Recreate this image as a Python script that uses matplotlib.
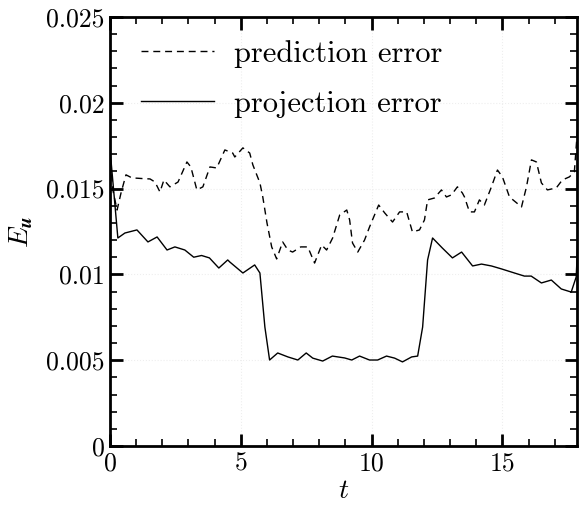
import numpy as np
import matplotlib
matplotlib.use("Agg")
import matplotlib.pyplot as plt
from matplotlib.ticker import MultipleLocator, FuncFormatter

plt.rcParams["font.family"] = "serif"
plt.rcParams["font.serif"] = ["cmr10"]
plt.rcParams["mathtext.fontset"] = "cm"
plt.rcParams["axes.unicode_minus"] = False

# prediction error (dashed)
t_pred = [0.0, 0.04, 0.11, 0.27, 0.42, 0.61, 0.84, 1.07, 1.26, 1.53, 1.72, 1.91, 2.06,
          2.29, 2.6, 2.94, 3.09, 3.32, 3.55, 3.82, 4.08, 4.39, 4.69, 4.77, 5.08, 5.34,
          5.46, 5.73, 5.84, 6.0, 6.18, 6.37, 6.6, 6.8, 6.98, 7.29, 7.56, 7.82, 8.09,
          8.28, 8.51, 8.78, 9.05, 9.16, 9.27, 9.47, 9.73, 9.92, 10.27, 10.5, 10.8,
          11.07, 11.34, 11.56, 11.83, 12.02, 12.14, 12.4, 12.67, 12.86, 13.05, 13.28,
          13.47, 13.55, 13.74, 13.93, 14.12, 14.31, 14.58, 14.81, 15.0, 15.27, 15.73,
          15.92, 16.11, 16.3, 16.49, 16.72, 17.06, 17.29, 17.56, 17.75, 17.82, 17.9]
e_pred = [0.0165, 0.0162, 0.0149, 0.01375, 0.01474, 0.0158, 0.01562, 0.0156, 0.01558,
          0.01556, 0.01538, 0.0148, 0.0155, 0.0151, 0.01538, 0.01655, 0.01626, 0.01492,
          0.0151, 0.01626, 0.0162, 0.01725, 0.01707, 0.01684, 0.01737, 0.01707, 0.01638,
          0.01533, 0.01451, 0.0130, 0.0116, 0.0109, 0.01189, 0.01142, 0.0113, 0.0116,
          0.0116, 0.01066, 0.01171, 0.01142, 0.01212, 0.01346, 0.01375, 0.01317, 0.01183,
          0.0113, 0.0120, 0.01276, 0.01404, 0.01358, 0.01305, 0.01364, 0.01364, 0.01247,
          0.01259, 0.01317, 0.01434, 0.01445, 0.01492, 0.01451, 0.01463, 0.0151, 0.01474,
          0.01451, 0.01364, 0.01364, 0.01434, 0.01404, 0.0151, 0.01608, 0.01568, 0.01451,
          0.01393, 0.0151, 0.01667, 0.01655, 0.01533, 0.01492, 0.01504, 0.0155, 0.01568,
          0.01597, 0.01743, 0.0190]

# projection error (solid)
t_proj = [0.0, 0.04, 0.3, 0.57, 1.03, 1.45, 1.8, 2.18, 2.48, 2.86, 3.2, 3.5, 3.8, 4.16,
          4.5, 4.58, 5.08, 5.53, 5.73, 5.92, 6.1, 6.41, 6.8, 7.18, 7.5, 7.75, 8.13, 8.5,
          8.97, 9.24, 9.54, 9.92, 10.23, 10.57, 10.88, 11.18, 11.53, 11.76, 11.95, 12.14,
          12.33, 12.7, 13.09, 13.44, 13.86, 14.2, 14.58, 14.96, 15.46, 15.84, 16.1, 16.49,
          16.87, 17.25, 17.63, 17.82, 17.9]
e_proj = [0.0170, 0.0166, 0.01212, 0.01241, 0.01259, 0.01189, 0.01218, 0.01142, 0.0116,
          0.01142, 0.0110, 0.0111, 0.01096, 0.01037, 0.01084, 0.01072, 0.01008, 0.01055,
          0.01008, 0.00693, 0.00501, 0.00542, 0.00519, 0.00501, 0.00542, 0.00512, 0.00495,
          0.00524, 0.00513, 0.00501, 0.00524, 0.00501, 0.00501, 0.00524, 0.00512, 0.0049,
          0.00519, 0.00524, 0.00693, 0.01084, 0.01212, 0.01154, 0.01096, 0.0113, 0.01049,
          0.0106, 0.01049, 0.01032, 0.01008, 0.0099, 0.0099, 0.0095, 0.00967, 0.00915,
          0.00897, 0.00985, 0.0125]

fig = plt.figure(figsize=(5.79, 5.13), dpi=100)
ax = fig.add_axes([0.19, 0.1306, 0.8065, 0.8364])

ax.plot(t_pred, e_pred, "k--", lw=1.0, dashes=(5, 3.5), label="prediction error")
ax.plot(t_proj, e_proj, "k-", lw=1.0, label="projection error")

ax.set_xlim(0, 17.85)
ax.set_ylim(0, 0.025)
ax.xaxis.set_major_locator(MultipleLocator(5))
ax.xaxis.set_minor_locator(MultipleLocator(1))
ax.yaxis.set_major_locator(MultipleLocator(0.005))
ax.yaxis.set_minor_locator(MultipleLocator(0.001))
ax.yaxis.set_major_formatter(FuncFormatter(lambda v, p: f"{v:g}"))
ax.xaxis.set_major_formatter(FuncFormatter(lambda v, p: f"{v:g}"))
ax.tick_params(which="both", direction="in", top=True, right=True, labelsize=18.5, width=1.2)
ax.tick_params(which="major", length=9, width=2, pad=4)
ax.tick_params(which="minor", length=5)
for sp in ax.spines.values():
    sp.set_linewidth(2)
ax.grid(True, which="major", color="#eeeeee", linestyle=":", linewidth=0.8)

ax.set_xlabel(r"$t$", fontsize=20, labelpad=2)
ax.set_ylabel(r"$E_{\boldsymbol{u}}$", fontsize=20, labelpad=8)

ax.legend(loc="upper left", frameon=False, fontsize=22, handlelength=2.4,
          handletextpad=0.65, borderaxespad=0.0, labelspacing=0.75,
          bbox_to_anchor=(0.04, 0.975))

fig.savefig("out.png", dpi=100)
